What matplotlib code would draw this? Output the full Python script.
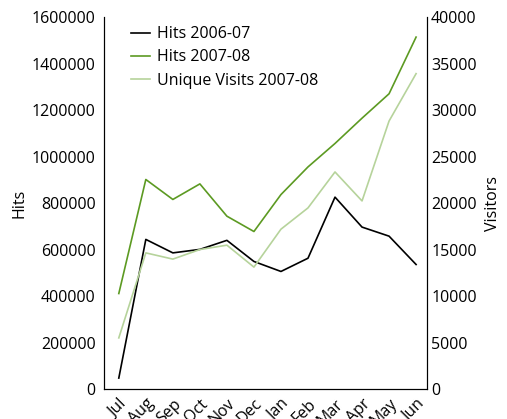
import matplotlib
matplotlib.use("Agg")
import matplotlib.pyplot as plt
from matplotlib.ticker import StrMethodFormatter

plt.rcParams['font.family'] = ['Open Sans', 'DejaVu Sans']

months = ['Jul', 'Aug', 'Sep', 'Oct', 'Nov', 'Dec', 'Jan', 'Feb', 'Mar', 'Apr', 'May', 'Jun']
hits_0607 = [47000, 644000, 586000, 601000, 640000, 549000, 506000, 563000, 826000, 697000, 658000, 536000]
hits_0708 = [411000, 902000, 816000, 883000, 744000, 678000, 837000, 956000, 1057000, 1166000, 1271000, 1515000]
visits_0708 = [5500, 14650, 13980, 15010, 15480, 13120, 17200, 19490, 23360, 20240, 28840, 33940]

x = list(range(len(months)))

fig = plt.figure(figsize=(5.07, 4.19), dpi=100)
ax = fig.add_axes([0.205, 0.0716, 0.637, 0.887])
ax2 = ax.twinx()

l1, = ax.plot(x, hits_0607, color='black', lw=1.2, label='Hits 2006-07')
l2, = ax.plot(x, hits_0708, color='#5c9a22', lw=1.2, label='Hits 2007-08')
l3, = ax2.plot(x, visits_0708, color='#b6d39b', lw=1.2, label='Unique Visits 2007-08')

ax.set_xlim(-0.55, 11.4)
ax.set_ylim(0, 1600000)
ax2.set_ylim(0, 40000)
ax.set_yticks(range(0, 1600001, 200000))
ax2.set_yticks(range(0, 40001, 5000))
ax.yaxis.set_major_formatter(StrMethodFormatter('{x:.0f}'))
ax2.yaxis.set_major_formatter(StrMethodFormatter('{x:.0f}'))
ax.set_xticks(x)
ax.set_xticklabels(months, rotation=45, ha='right', rotation_mode='anchor')

for a in (ax, ax2):
    a.spines['top'].set_visible(False)
    a.tick_params(length=0, labelsize=11.5)
ax.tick_params(axis='y', pad=6)
ax.tick_params(axis='x', pad=5)
ax2.tick_params(axis='y', pad=3)

ax.set_ylabel('Hits', fontsize=11.5, labelpad=3)
ax2.set_ylabel('Visitors', fontsize=11.5, labelpad=6)

ax.legend(handles=[l1, l2, l3], loc='upper left', frameon=False, fontsize=11.5,
          handlelength=1.2, handletextpad=0.4, labelspacing=0.45,
          bbox_to_anchor=(0.04, 1.015))

fig.savefig('out.png', dpi=100)
